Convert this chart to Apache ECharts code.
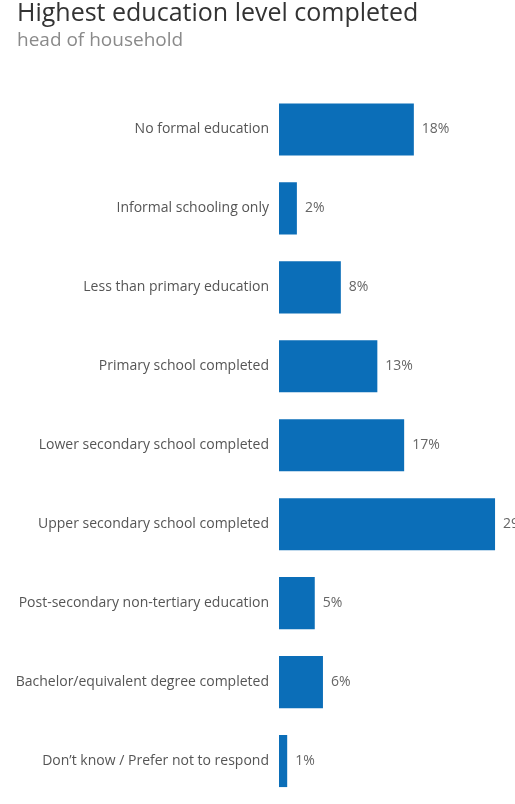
<!DOCTYPE html>
<html>
<head>
<meta charset="utf-8">
<script src="https://cdn.jsdelivr.net/npm/echarts@6/dist/echarts.min.js"></script>
<style>
  html, body { margin: 0; padding: 0; background: #fff; }
  #chart { width: 515px; height: 804px; }
</style>
</head>
<body>
<div id="chart"></div>
<script>
// categories, top to bottom
var categories = [
    'No formal education',
    'Informal schooling only',
    'Less than primary education',
    'Primary school completed',
    'Lower secondary school completed',
    'Upper secondary school completed',
    'Post-secondary non-tertiary education',
    'Bachelor/equivalent degree completed',
    'Don\u2019t know / Prefer not to respond'
];
// share of households, %
var shares = [18.1, 2.4, 8.3, 13.2, 16.8, 29.0, 4.8, 5.9, 1.1];

var myChart = echarts.init(document.getElementById('chart'));

var option = {
    animation: false,
    title: {
        text: 'Highest education level completed',
        subtext: 'head of household',
        left: 12,
        top: -4,
        itemGap: 5,
        textStyle: { fontFamily: 'Open Sans', fontWeight: 'normal', fontSize: 25, color: '#333' },
        subtextStyle: { fontFamily: 'Open Sans', fontSize: 19, color: '#8a8a8a' }
    },
    grid: { left: 279, top: 90, bottom: 3.5, width: 223.5 },
    xAxis: {
        type: 'value',
        min: 0,
        max: 30,
        show: false
    },
    yAxis: {
        type: 'category',
        inverse: true,
        data: categories,
        axisLine: { show: false },
        axisTick: { show: false },
        axisLabel: {
            margin: 10,
            fontFamily: 'Open Sans',
            fontSize: 14,
            color: '#555'
        }
    },
    series: [{
        type: 'bar',
        data: shares,
        barCategoryGap: '34%',
        itemStyle: { color: '#0b6eb8' },
        label: {
            show: true,
            position: 'right',
            distance: 8,
            fontFamily: 'Open Sans',
            fontSize: 14,
            color: '#666',
            formatter: function(p) { return Math.round(p.value) + '%'; }
        }
    }]
};
myChart.setOption(option);
</script>
</body>
</html>
